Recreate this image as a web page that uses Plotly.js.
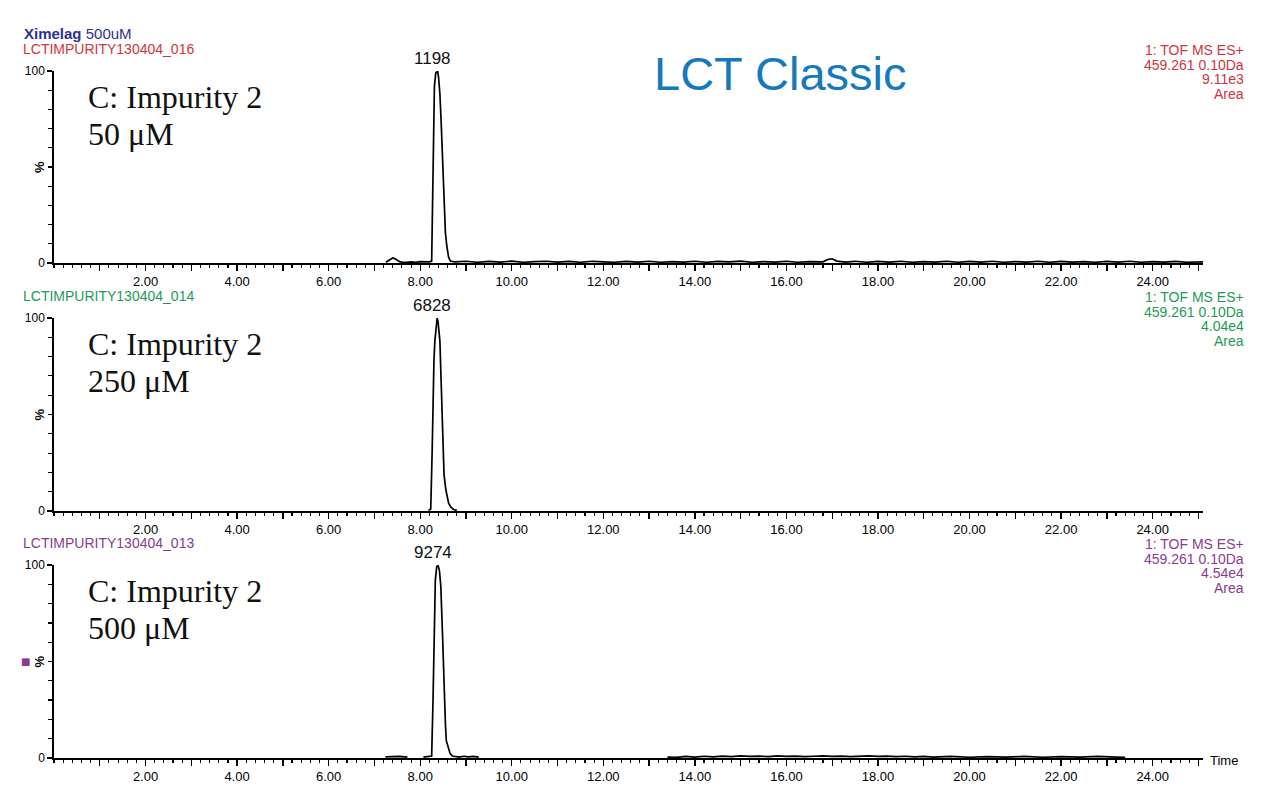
<!DOCTYPE html>
<html>
<head>
<meta charset="utf-8">
<script src="https://cdn.plot.ly/plotly-3.0.1.min.js"></script>
<style>html,body{margin:0;padding:0;background:#fff;}#chart{width:1280px;height:806px;}</style>
</head>
<body>
<div id="chart"></div>
<script>
// ---------------- data ----------------
const sampleNames = ["LCTIMPURITY130404_016", "LCTIMPURITY130404_014", "LCTIMPURITY130404_013"];
const concLabels = ["50 \u03bcM", "250 \u03bcM", "500 \u03bcM"];
const compoundLabel = "C: Impurity 2";
const peakLabels = ["1198", "6828", "9274"];
const peakTimes = [8.38, 8.37, 8.39];
const areaValues = ["9.11e3", "4.04e4", "4.54e4"];
const channelLine1 = "1: TOF MS ES+";
const channelLine2 = "459.261 0.10Da";
const channelLine4 = "Area";

// panel 1 (50 uM)
const p1Time = [7.25, 7.30, 7.35, 7.40, 7.45, 7.50, 7.55, 7.60, 7.70, 7.80, 7.90, 8.00, 8.10, 8.20, 8.25,
  8.28, 8.31, 8.34, 8.38, 8.40, 8.43, 8.46, 8.49, 8.52, 8.55, 8.58, 8.62, 8.66, 8.75,
  9.0, 9.25, 9.5, 9.75, 10.0, 10.25, 10.5, 10.75, 11.0, 11.25, 11.5, 11.75, 12.0, 12.25, 12.5, 12.75,
  13.0, 13.25, 13.5, 13.75, 14.0, 14.25, 14.5, 14.75, 15.0, 15.25, 15.5, 15.75, 16.0, 16.25, 16.5,
  16.8, 16.9, 17.0, 17.1, 17.3, 17.5, 17.75, 18.0, 18.25, 18.5, 18.75, 19.0, 19.25, 19.5, 19.75,
  20.0, 20.25, 20.5, 20.75, 21.0, 21.25, 21.5, 21.75, 22.0, 22.25, 22.5, 22.75,
  23.0, 23.25, 23.5, 23.75, 24.0, 24.25, 24.5, 24.75, 25.1];
const p1Int = [0.4, 1.2, 2.1, 2.6, 2.2, 1.4, 0.7, 0.5, 0.3, 0.6, 0.4, 0.7, 0.5, 0.6, 1.0,
  50, 92, 99, 100, 97, 88, 72, 50, 29, 16, 9, 3, 1.0, 0.6,
  0.9, 0.4, 0.8, 0.5, 1.0, 0.4, 0.7, 0.9, 0.5, 0.8, 0.4, 0.9, 0.6, 0.4, 0.8, 0.5,
  0.9, 0.4, 0.7, 0.5, 0.9, 0.4, 0.8, 0.6, 1.0, 0.4, 0.7, 0.5, 0.9, 0.4, 0.7,
  0.6, 1.8, 2.2, 1.0, 0.5, 0.9, 0.4, 0.8, 0.5, 0.9, 0.4, 0.7, 0.5, 0.9, 0.4,
  0.8, 0.5, 0.9, 0.4, 0.7, 0.5, 0.9, 0.4, 0.8, 0.5, 0.7, 0.4,
  0.8, 0.5, 0.9, 0.4, 0.7, 0.5, 0.8, 0.4, 0.6];

// panel 2 (250 uM)
const p2Time = [8.18, 8.23, 8.26, 8.28, 8.30, 8.32, 8.35, 8.37, 8.39, 8.43, 8.46, 8.48, 8.50, 8.52, 8.56, 8.60, 8.62, 8.67, 8.73, 8.80];
const p2Int  = [0.3, 1.0, 30, 62, 78, 88, 98, 100, 98, 88, 65, 45, 30, 19, 11, 6, 4, 2, 0.8, 0.3];

// panel 3 (500 uM) — null marks gaps where the trace lies on the axis
const p3Time = [7.24, 7.35, 7.45, 7.55, 7.65, 7.72, 7.80,
  8.07, 8.15, 8.22, 8.25, 8.28, 8.30, 8.33, 8.36, 8.39, 8.42, 8.45, 8.49, 8.52, 8.55, 8.57, 8.61, 8.65, 8.70,
  8.75, 8.85, 8.95, 9.05, 9.15, 9.28, 9.35,
  13.4, 13.6, 13.8, 14.0, 14.2, 14.4, 14.6, 14.8, 15.0, 15.2, 15.4, 15.6, 15.8, 16.0, 16.2, 16.4, 16.6,
  16.8, 17.0, 17.2, 17.4, 17.6, 17.8, 18.0, 18.2, 18.4, 18.6, 18.8, 19.0, 19.2, 19.6, 20.0, 20.4,
  20.8, 21.2, 21.6, 22.0, 22.4, 22.8, 23.2, 23.4];
const p3Int = [0.6, 0.8, 0.7, 0.8, 0.6, 0.5, null,
  0.5, 0.7, 0.6, 1.0, 30, 61, 92, 99, 100, 97, 89, 62, 35, 18, 9, 5, 2.5, 1.0,
  0.8, 0.5, 0.9, 0.6, 0.8, 0.5, null,
  0.5, 0.3, 0.8, 0.5, 0.9, 0.6, 1.0, 0.7, 1.1, 0.8, 1.0, 0.7, 1.1, 0.8, 1.0, 0.7, 0.9,
  1.1, 0.8, 1.0, 0.7, 0.9, 1.1, 0.8, 1.0, 0.7, 0.9, 0.6, 0.8, 0.5, 0.8, 0.4, 0.7,
  0.5, 0.8, 0.4, 0.7, 0.5, 0.8, 0.5, 0.4];

const xTickVals = [1,2,3,4,5,6,7,8,9,10,11,12,13,14,15,16,17,18,19,20,21,22,23,24,25];
const xTickText = xTickVals.map(v => v % 2 === 0 ? v.toFixed(2) : "");
const yTickVals = [0, 100];
const yTickText = ["0", "100"];

// ---------------- layout helpers ----------------
const W = 1280, H = 806, ML = 54, MR = 77;
const px = x => (x - ML) / (W - ML - MR);
const py = y => 1 - y / H;
const panelPx = [[71, 263], [318, 511], [565, 758]];
const panelColors = ["#d1343c", "#1e9a55", "#8b3b8f"];
const SANS = "Liberation Sans, Arial, sans-serif";
const SERIF = "Liberation Serif, Times New Roman, serif";

const series = [[p1Time, p1Int], [p2Time, p2Int], [p3Time, p3Int]];
const traces = series.map((s, i) => ({
  type: "scatter", mode: "lines",
  x: s[0], y: s[1],
  xaxis: i === 0 ? "x" : "x" + (i + 1),
  yaxis: i === 0 ? "y" : "y" + (i + 1),
  line: {color: "#000", width: 1.7},
  connectgaps: false, cliponaxis: false, hoverinfo: "skip", showlegend: false
}));

const layout = {
  width: W, height: H,
  margin: {l: ML, r: MR, t: 0, b: 0, pad: 0},
  paper_bgcolor: "#fff", plot_bgcolor: "#fff",
  showlegend: false,
  annotations: [], shapes: []
};

panelPx.forEach((p, i) => {
  const sfx = i === 0 ? "" : String(i + 1);
  layout["xaxis" + sfx] = {
    domain: [0, 1], range: [0, 25.1], anchor: "y" + sfx,
    showline: true, linecolor: "#000", linewidth: 1.7,
    ticks: "outside", ticklen: 6, tickwidth: 1.4, tickcolor: "#000",
    tickmode: "array", tickvals: xTickVals, ticktext: xTickText,
    minor: {tickmode: "linear", tick0: 0, dtick: 0.2, ticks: "outside", ticklen: 3, tickwidth: 1.1, tickcolor: "#000", showgrid: false},
    showgrid: false, zeroline: false,
    tickfont: {family: SANS, size: 13, color: "#000"}
  };
  layout["yaxis" + sfx] = {
    domain: [py(p[1]), py(p[0])], range: [0, 100], anchor: "x" + sfx,
    showline: true, linecolor: "#000", linewidth: 1.7,
    ticks: "outside", ticklen: 5, tickwidth: 1.4, tickcolor: "#000",
    tickmode: "array", tickvals: yTickVals, ticktext: yTickText,
    minor: {tickmode: "linear", tick0: 0, dtick: 10, ticks: "outside", ticklen: 4, tickwidth: 1.2, tickcolor: "#000", showgrid: false},
    showgrid: false, zeroline: false,
    tickfont: {family: SANS, size: 12, color: "#000"}
  };

  const top = p[0];
  const col = panelColors[i];
  const A = layout.annotations;
  // sample name
  A.push({xref: "paper", yref: "paper", x: px(21), y: py(top - 22), xanchor: "left", yanchor: "middle",
    text: sampleNames[i], showarrow: false, font: {family: SANS, size: 14, color: col}});
  // right channel info
  const rightLines = [channelLine1, channelLine2, areaValues[i], channelLine4];
  rightLines.forEach((t, k) => {
    A.push({xref: "paper", yref: "paper", x: px(1246), y: py(top - 21 + k * 14.6), xanchor: "right", yanchor: "middle",
      text: t, showarrow: false, font: {family: SANS, size: 14, color: col}});
  });
  // compound label
  A.push({xref: "paper", yref: "paper", x: px(86), y: py(top + 26), xanchor: "left", yanchor: "middle",
    text: compoundLabel, showarrow: false, font: {family: SERIF, size: 32, color: "#111"}});
  A.push({xref: "paper", yref: "paper", x: px(86), y: py(top + 63), xanchor: "left", yanchor: "middle",
    text: concLabels[i], showarrow: false, font: {family: SERIF, size: 32, color: "#111"}});
  // peak label
  A.push({xref: "x" + sfx, yref: "y" + sfx, x: peakTimes[i], y: 100, xanchor: "center", yanchor: "bottom", yshift: 1, xshift: -5,
    text: peakLabels[i], showarrow: false, font: {family: SANS, size: 17, color: "#111"}});
  // % axis label
  A.push({xref: "paper", yref: "paper", x: px(39), y: py((p[0] + p[1]) / 2), xanchor: "center", yanchor: "middle",
    text: "<b>%</b>", textangle: -90, showarrow: false, font: {family: SANS, size: 13, color: "#000"}});
});

layout.annotations.push(
  {xref: "paper", yref: "paper", x: px(22), y: py(33), xanchor: "left", yanchor: "middle",
   text: "<b>Ximelag</b> 500uM", showarrow: false, font: {family: SANS, size: 15, color: "#2e3192"}},
  {xref: "paper", yref: "paper", x: px(780), y: py(74), xanchor: "center", yanchor: "middle",
   text: "LCT Classic", showarrow: false, font: {family: SANS, size: 47, color: "#1479bd"}},
  {xref: "paper", yref: "paper", x: px(1208), y: py(760), xanchor: "left", yanchor: "middle",
   text: "Time", showarrow: false, font: {family: SANS, size: 13, color: "#000"}},
  {xref: "paper", yref: "paper", x: px(25), y: py(661), xanchor: "center", yanchor: "middle",
   text: "\u25a0", showarrow: false, font: {family: "DejaVu Sans", size: 10, color: "#8b3b8f"}}
);

Plotly.newPlot("chart", traces, layout, {staticPlot: true, displayModeBar: false});
</script>
</body>
</html>
